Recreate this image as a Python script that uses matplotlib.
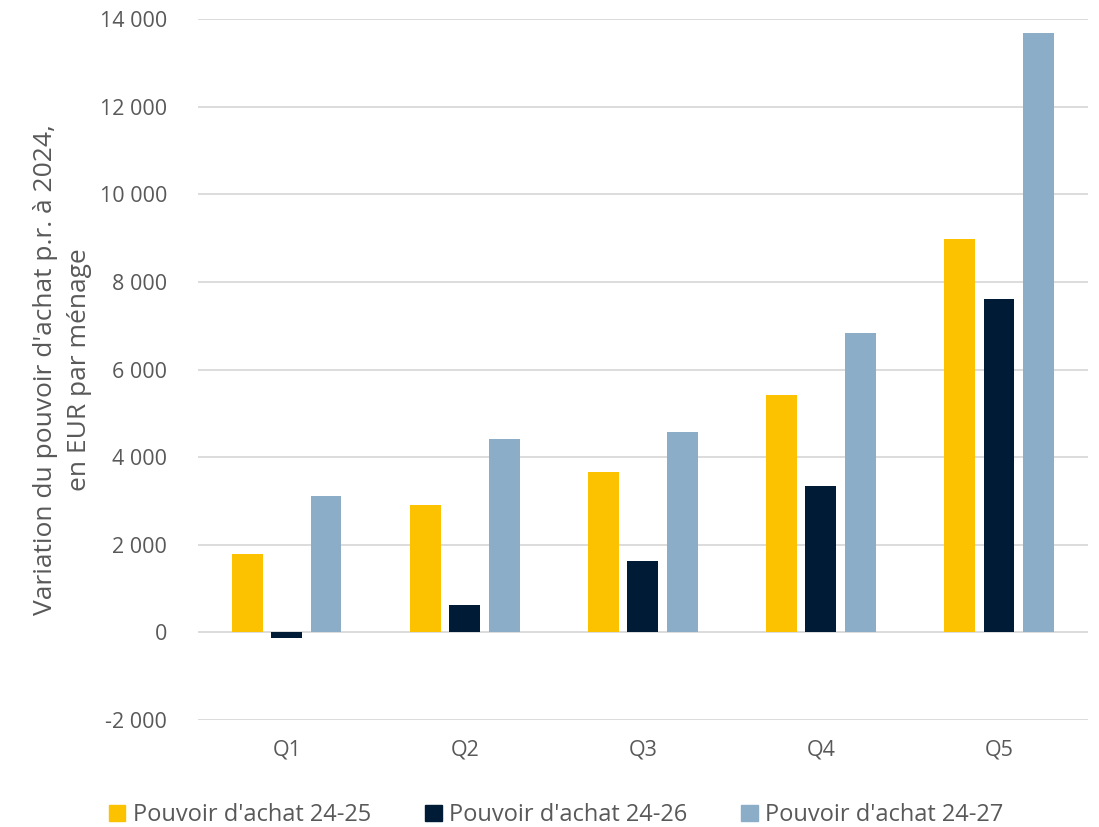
import matplotlib.pyplot as plt
import numpy as np
from matplotlib.patches import Patch

plt.rcParams['font.family'] = ['Open Sans', 'DejaVu Sans']

categories = ["Q1", "Q2", "Q3", "Q4", "Q5"]
series_names = ["Pouvoir d'achat 24-25", "Pouvoir d'achat 24-26", "Pouvoir d'achat 24-27"]
pa_24_25 = [1780, 2900, 3650, 5410, 8980]
pa_24_26 = [-120, 630, 1620, 3350, 7600]
pa_24_27 = [3120, 4420, 4580, 6830, 13690]
yticks = [-2000, 0, 2000, 4000, 6000, 8000, 10000, 12000, 14000]

colors = ["#FCC200", "#001B35", "#8BADC8"]
text_col = "#595959"

fig = plt.figure(figsize=(10.99, 8.27), dpi=100)
ax = fig.add_axes([0.180, 0.1294, 0.810, 0.8476])

x = np.arange(len(categories))
width = 0.174
step = 0.22
for i, (vals, c) in enumerate(zip([pa_24_25, pa_24_26, pa_24_27], colors)):
    ax.bar(x + (i - 1) * step, vals, width=width, color=c, zorder=3)

ax.set_xlim(-0.5, len(categories) - 0.5)
ax.set_ylim(-2000, 14000)
ax.set_yticks(yticks)
ax.set_yticklabels([f"{v:,}".replace(",", " ") for v in yticks])
ax.set_xticks(x)
ax.set_xticklabels(categories)
ax.tick_params(axis='both', length=0, labelsize=15.5, colors=text_col)
ax.tick_params(axis='y', pad=22)
ax.tick_params(axis='x', pad=14)
ax.yaxis.grid(True, color="#D9D9D9", linewidth=1.3, zorder=0)
for s in ax.spines.values():
    s.set_visible(False)

# two-line y label, centred on the axis
ax.set_ylabel("Variation du pouvoir d'achat p.r. à 2024,\nen EUR par ménage",
              fontsize=19, color=text_col, linespacing=1.45)
ax.yaxis.set_label_coords(-0.119, 0.5)

handles = [Patch(color=c) for c in colors]
fig.legend(handles, series_names, loc='center', bbox_to_anchor=(0.506, 0.014), ncol=3,
           frameon=False, fontsize=17, labelcolor=text_col, handlelength=0.7,
           handleheight=0.7, handletextpad=0.3, columnspacing=2.3)

plt.savefig("out.png", dpi=100)
